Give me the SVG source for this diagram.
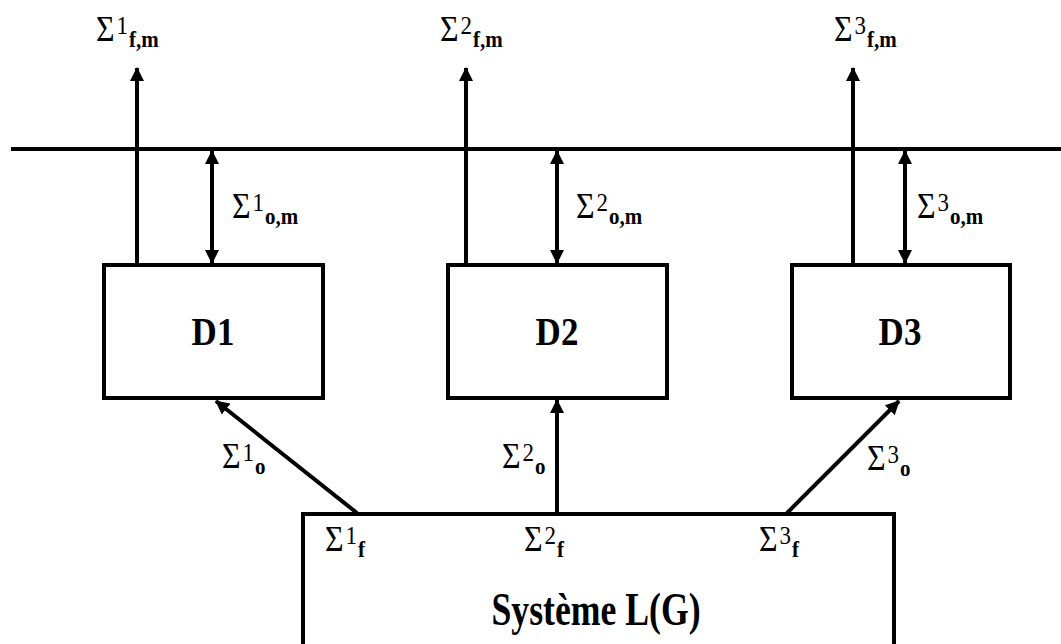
<svg xmlns="http://www.w3.org/2000/svg" width="1061" height="644" viewBox="0 0 1061 644">
<defs>
<marker id="ah" markerWidth="14" markerHeight="14" refX="13" refY="7" orient="auto-start-reverse" markerUnits="userSpaceOnUse">
<path d="M0,0 L14,7 L0,14 Z" fill="#000"/>
</marker>
<style>
.box{fill:#fff;stroke:#000;stroke-width:4}
.ln{stroke:#000;stroke-width:4;fill:none}
.big{font-family:"Liberation Serif",serif;font-weight:bold;font-size:35px;fill:#000}
.sg{font-family:"Liberation Serif",serif;font-size:32px;fill:#000}
.sp{font-family:"Liberation Serif",serif;font-size:23px;fill:#000}
.sb{font-family:"Liberation Serif",serif;font-weight:bold;font-size:21px;fill:#000}
</style>
</defs>
<rect width="1061" height="644" fill="#fff"/>
<g id="connectors">
<line class="ln" x1="11" y1="149" x2="1061" y2="149"/>
<line class="ln" x1="137" y1="265" x2="137" y2="68" marker-end="url(#ah)"/>
<line class="ln" x1="466" y1="265" x2="466" y2="68" marker-end="url(#ah)"/>
<line class="ln" x1="853" y1="265" x2="853" y2="68" marker-end="url(#ah)"/>
<line class="ln" x1="212" y1="151" x2="212" y2="263" marker-start="url(#ah)" marker-end="url(#ah)"/>
<line class="ln" x1="557" y1="151" x2="557" y2="263" marker-start="url(#ah)" marker-end="url(#ah)"/>
<line class="ln" x1="905" y1="151" x2="905" y2="263" marker-start="url(#ah)" marker-end="url(#ah)"/>
<line class="ln" x1="357" y1="513" x2="216" y2="401" marker-end="url(#ah)"/>
<line class="ln" x1="557" y1="513" x2="557" y2="400" marker-end="url(#ah)"/>
<line class="ln" x1="787" y1="513" x2="899" y2="401" marker-end="url(#ah)"/>
</g>
<g id="D1">
<rect class="box" x="104" y="265" width="219" height="133"/>
<text class="big" transform="translate(213,345) scale(1,1.12)" text-anchor="middle">D1</text>
</g>
<g id="D2">
<rect class="box" x="448" y="265" width="219" height="133"/>
<text class="big" transform="translate(557,345) scale(1,1.12)" text-anchor="middle">D2</text>
</g>
<g id="D3">
<rect class="box" x="792" y="265" width="218" height="133"/>
<text class="big" transform="translate(900,345) scale(1,1.12)" text-anchor="middle">D3</text>
</g>
<g id="systeme">
<rect class="box" x="303" y="514" width="591" height="140"/>
<text class="big" transform="translate(596,625) scale(1.02,1.3)" text-anchor="middle">Système L(G)</text>
</g>
<g id="labels">
<text transform="translate(96,41) scale(1,1.12)"><tspan class="sg">Σ</tspan><tspan class="sp" dx="2" dy="-6">1</tspan><tspan class="sb" dx="1" dy="11">f,m</tspan></text>
<text transform="translate(440,41) scale(1,1.12)"><tspan class="sg">Σ</tspan><tspan class="sp" dx="2" dy="-6">2</tspan><tspan class="sb" dx="1" dy="11">f,m</tspan></text>
<text transform="translate(834,41) scale(1,1.12)"><tspan class="sg">Σ</tspan><tspan class="sp" dx="2" dy="-6">3</tspan><tspan class="sb" dx="1" dy="11">f,m</tspan></text>
<text transform="translate(232,218) scale(1,1.12)"><tspan class="sg">Σ</tspan><tspan class="sp" dx="2" dy="-6">1</tspan><tspan class="sb" dx="1" dy="11">o,m</tspan></text>
<text transform="translate(576,218) scale(1,1.12)"><tspan class="sg">Σ</tspan><tspan class="sp" dx="2" dy="-6">2</tspan><tspan class="sb" dx="1" dy="11">o,m</tspan></text>
<text transform="translate(917,218) scale(1,1.12)"><tspan class="sg">Σ</tspan><tspan class="sp" dx="2" dy="-6">3</tspan><tspan class="sb" dx="1" dy="11">o,m</tspan></text>
<text transform="translate(222,468) scale(1,1.12)"><tspan class="sg">Σ</tspan><tspan class="sp" dx="2" dy="-6">1</tspan><tspan class="sb" dx="1" dy="11">o</tspan></text>
<text transform="translate(502,468) scale(1,1.12)"><tspan class="sg">Σ</tspan><tspan class="sp" dx="2" dy="-6">2</tspan><tspan class="sb" dx="1" dy="11">o</tspan></text>
<text transform="translate(867,470) scale(1,1.12)"><tspan class="sg">Σ</tspan><tspan class="sp" dx="2" dy="-6">3</tspan><tspan class="sb" dx="1" dy="11">o</tspan></text>
<text transform="translate(325,551) scale(1,1.12)"><tspan class="sg">Σ</tspan><tspan class="sp" dx="2" dy="-6">1</tspan><tspan class="sb" dx="1" dy="11">f</tspan></text>
<text transform="translate(524,551) scale(1,1.12)"><tspan class="sg">Σ</tspan><tspan class="sp" dx="2" dy="-6">2</tspan><tspan class="sb" dx="1" dy="11">f</tspan></text>
<text transform="translate(759,551) scale(1,1.12)"><tspan class="sg">Σ</tspan><tspan class="sp" dx="2" dy="-6">3</tspan><tspan class="sb" dx="1" dy="11">f</tspan></text>
</g>
</svg>
